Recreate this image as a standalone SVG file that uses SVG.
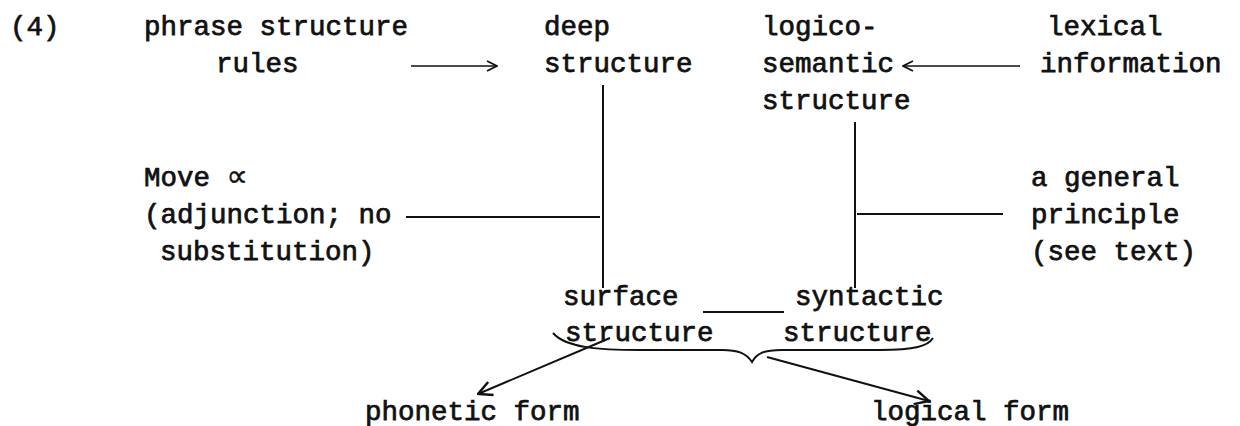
<svg xmlns="http://www.w3.org/2000/svg" width="1240" height="426" viewBox="0 0 1240 426">
<style>
text{font-family:"Liberation Mono","Courier New",monospace;font-size:27.5px;fill:#111;stroke:#111;stroke-width:0.75}
.sym{font-family:"DejaVu Sans",sans-serif;font-size:30px;stroke-width:0.4}
.ln{stroke:#111;stroke-width:2;fill:none}
.thin{stroke:#111;stroke-width:1.6;fill:none}
</style>
<defs>
<marker id="ah" viewBox="0 0 12 12" refX="11" refY="6" markerWidth="12" markerHeight="12" markerUnits="userSpaceOnUse" orient="auto">
<path d="M1,1 L11,6 L1,11" fill="none" stroke="#111" stroke-width="1.8"/>
</marker>
<marker id="ah2" viewBox="0 0 16 16" refX="15" refY="8" markerWidth="16" markerHeight="16" markerUnits="userSpaceOnUse" orient="auto">
<path d="M1,1 L15,8 L1,15" fill="none" stroke="#111" stroke-width="2.4"/>
</marker>
</defs>
<g id="label"><text x="10" y="35">(4)</text></g>
<g id="psr"><text x="144" y="35">phrase structure</text><text x="216" y="72">rules</text></g>
<g id="deep"><text x="544" y="35">deep</text><text x="544" y="72">structure</text></g>
<g id="logico"><text x="762" y="35">logico-</text><text x="762" y="72">semantic</text><text x="762" y="109">structure</text></g>
<g id="lexical"><text x="1047" y="35">lexical</text><text x="1040" y="72">information</text></g>
<g id="move"><text x="144" y="186">Move <tspan class="sym">∝</tspan></text><text x="144" y="223">(adjunction; no</text><text x="160" y="260">substitution)</text></g>
<g id="principle"><text x="1031" y="186">a general</text><text x="1031" y="223">principle</text><text x="1031" y="260">(see text)</text></g>
<g id="surface"><text x="563" y="305">surface</text><text x="565" y="341">structure</text></g>
<g id="syntactic"><text x="795" y="305">syntactic</text><text x="783" y="341">structure</text></g>
<g id="pf"><text x="365" y="420">phonetic form</text></g>
<g id="lf"><text x="871" y="420">logical form</text></g>
<g id="connectors">
<line class="thin" x1="411" y1="66" x2="497" y2="66" marker-end="url(#ah)"/>
<line class="thin" x1="1020" y1="66" x2="903" y2="66" marker-end="url(#ah)"/>
<line class="ln" x1="603" y1="85" x2="603" y2="288"/>
<line class="ln" x1="855" y1="122" x2="855" y2="288"/>
<line class="ln" x1="406" y1="217" x2="600" y2="217"/>
<line class="ln" x1="857" y1="214" x2="1003" y2="214"/>
<line class="ln" x1="703" y1="312" x2="784" y2="312"/>
<path class="ln" d="M553,333 C566,348 600,350 640,350 L722,350 C738,350 746,353 752,362 C757,353 764,350 782,350 L880,350 C915,350 928,346 933,338"/>
<line class="ln" x1="610" y1="338" x2="478" y2="394" marker-end="url(#ah2)"/>
<line class="ln" x1="767" y1="357" x2="929" y2="401" marker-end="url(#ah2)"/>
</g>
</svg>
